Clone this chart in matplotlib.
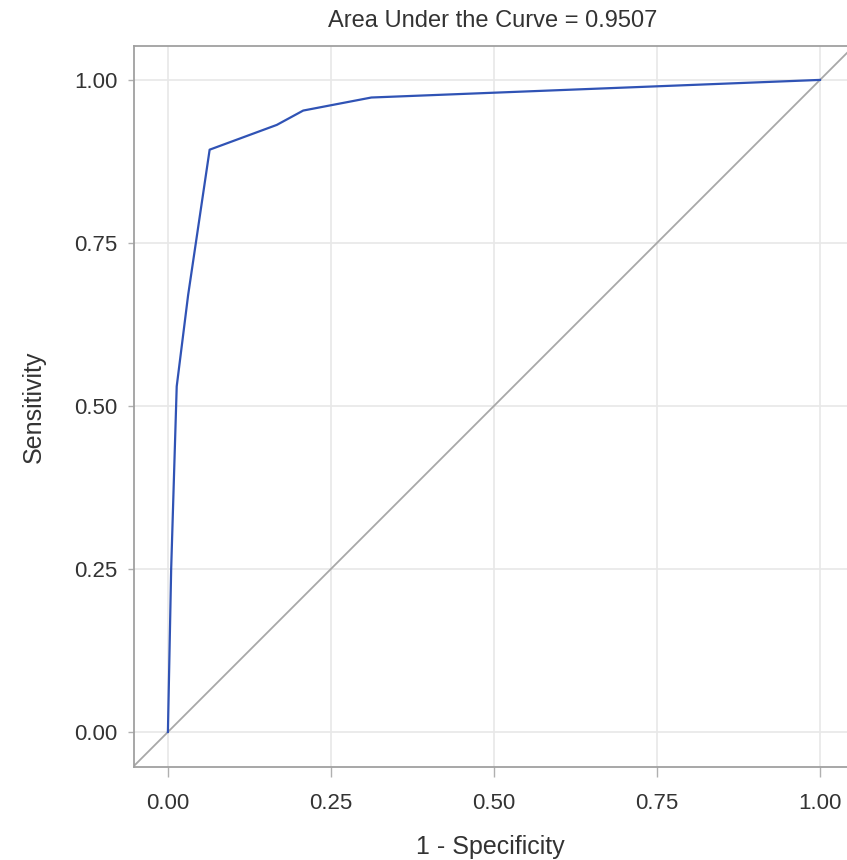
import numpy as np
import matplotlib
matplotlib.use("Agg")
import matplotlib.pyplot as plt

plt.rcParams['font.family'] = ['Liberation Sans', 'DejaVu Sans']

# ROC curve
fpr = [0.0, 0.005, 0.0135, 0.031, 0.064, 0.167, 0.2075, 0.312, 1.0]
tpr = [0.0, 0.25, 0.53, 0.67, 0.893, 0.931, 0.953, 0.973, 1.0]
auc = 0.9507
ticks = [0.0, 0.25, 0.5, 0.75, 1.0]
tick_labels = ['0.00', '0.25', '0.50', '0.75', '1.00']

fig = plt.figure(figsize=(8.47, 8.6), dpi=100)
ax = fig.add_axes([134 / 847, 1 - 767 / 860, 1 - 134 / 847, (767 - 46) / 860])

ax.set_xlim(-0.052, 1.0414)
ax.set_ylim(-0.0537, 1.052)

ax.grid(True, color='#e8e8e8', linewidth=1.2)
ax.set_axisbelow(True)

ax.plot([-0.1, 1.1], [-0.1, 1.1], color='#a8a8a8', linewidth=1.3, zorder=2)
ax.plot(fpr, tpr, color='#3053b5', linewidth=1.6, zorder=3)

ax.set_xticks(ticks)
ax.set_xticklabels(tick_labels)
ax.set_yticks(ticks)
ax.set_yticklabels(tick_labels)
ax.tick_params(axis='x', length=7, width=1, color='#b0b0b0', pad=12, labelsize=16, labelcolor='#333333')
ax.tick_params(axis='y', length=4, width=1, color='#b0b0b0', pad=8, labelsize=16, labelcolor='#333333')

for side in ['left', 'bottom', 'top']:
    ax.spines[side].set_color('#a0a0a0')
    ax.spines[side].set_linewidth(1.3)
ax.spines['right'].set_visible(False)

ax.set_xlabel('1 - Specificity', fontsize=18, color='#333333', labelpad=15)
ax.set_ylabel('Sensitivity', fontsize=18, color='#333333', labelpad=20)
fig.text(493 / 847, 1 - 21 / 860, 'Area Under the Curve = %.4f' % auc,
         ha='center', va='center', fontsize=17, color='#333333')

fig.savefig('out.png', dpi=100)
